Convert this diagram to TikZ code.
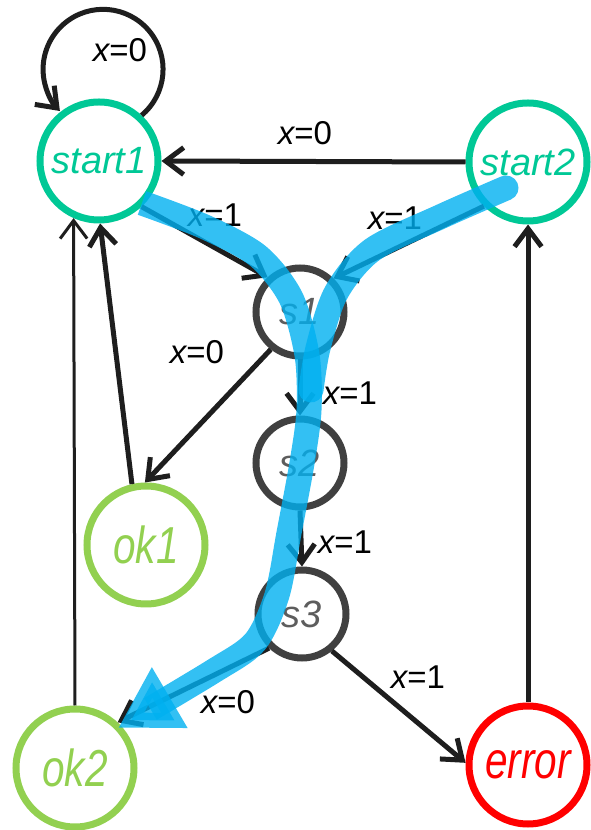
\documentclass[tikz,border=0pt]{standalone}
\usepackage{fontspec}
\setmainfont{Liberation Sans}
\newfontfamily\narrowsans[FakeStretch=0.78]{Liberation Sans}
\usetikzlibrary{arrows.meta}
\definecolor{startgreen}{RGB}{0,200,150}
\definecolor{okgreen}{RGB}{146,208,80}
\definecolor{errred}{RGB}{255,0,0}
\definecolor{stategray}{RGB}{64,64,64}
\definecolor{pathblue}{RGB}{0,176,240}
\definecolor{edgeblack}{RGB}{30,30,30}

\tikzset{
  state/.style={circle,line width=7pt,inner sep=0pt,
    font=\fontsize{38}{40}\selectfont\itshape},
  bigstate/.style={state,minimum size=118pt},
  endstate/.style={bigstate,font=\narrowsans\fontsize{52}{54}\selectfont\itshape},
  smallstate/.style={state,minimum size=88pt,draw=stategray,text=stategray!85},
  edge/.style={edgeblack,line width=5pt,
    -{Straight Barb[length=18pt,width=27pt]}},
  lbl/.style={font=\fontsize{33}{34}\selectfont},
  hilite/.style={pathblue,opacity=0.8,line width=25pt}
}
\newcommand{\xval}[1]{{\itshape x}=#1}

\begin{document}
\begin{tikzpicture}[x=1pt,y=1pt]
  \useasboundingbox (0,0) rectangle (590,830);
  % states
  \node[bigstate,draw=startgreen,text=startgreen] (start1) at (99,669) {start1};
  \node[bigstate,draw=startgreen,text=startgreen] (start2) at (528,668) {start2};
  \node[smallstate] (s1) at (300,518) {s1};
  \node[smallstate] (s2) at (300,367) {s2};
  \node[smallstate] (s3) at (302,216) {s3};
  \node[endstate,draw=okgreen,text=okgreen] (ok1) at (146,285) {ok1};
  \node[endstate,draw=okgreen,text=okgreen] (ok2) at (75,62) {ok2};
  \node[endstate,draw=errred,text=errred] (error) at (528,65) {error};

  % transitions
  \draw[edge] (start1.47) arc[start angle=-50,end angle=224,radius=60];
  \draw[edge] (start2.west) -- (start1.east);
  \draw[edge] (start1.-47) -- (s1.133);
  \draw[edge] (start2.225) -- (s1.45);
  \draw[edge] (s1.232) -- (ok1.91);
  \draw[edge] (s1.south) -- (s2.north);
  \draw[edge] (s2.south) -- (s3.north);
  \draw[edge] (s3.226) -- (ok2.47);
  \draw[edge] (s3.-51) -- (error.178);
  \draw[edge] (ok1.103) -- (start1.-89);
  \draw[edge,line width=3pt] (ok2.north) -- (start1.-114);
  \draw[edge] (error.north) -- (start2.south);

  % labels
  \node[lbl] (l0) at (120,780) {\xval{0}};
  \node[lbl] (l1) at (305,697) {\xval{0}};
  \node[lbl] (l2) at (215,615) {\xval{1}};
  \node[lbl] (l3) at (395,612) {\xval{1}};
  \node[lbl] (l4) at (197,478) {\xval{0}};
  \node[lbl] (l5) at (350,437) {\xval{1}};
  \node[lbl] (l6) at (345,288) {\xval{1}};
  \node[lbl] (l7) at (228,128) {\xval{0}};
  \node[lbl] (l8) at (418,153) {\xval{1}};

  % highlighted run
  \draw[hilite,line cap=round] plot[smooth] coordinates
    {(506,642) (440,613) (372,580) (336,537) (318,482) (311,440)};
  \draw[hilite,-{Triangle[length=60pt,width=66pt]}] plot[smooth] coordinates
    {(142,627) (205,603) (258,574) (291,532) (307,475) (309,420) (302,367)
     (289,297) (277,235) (255,188) (212,158) (118,102)};
\end{tikzpicture}
\end{document}
